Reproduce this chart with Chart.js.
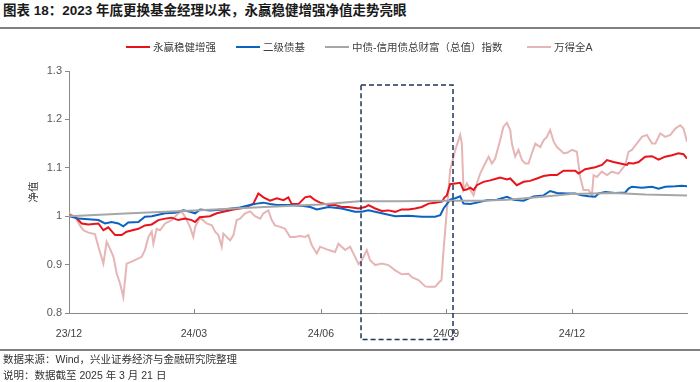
<!DOCTYPE html>
<html>
<head>
<meta charset="utf-8">
<script src="https://cdn.jsdelivr.net/npm/chart.js@4.4.0/dist/chart.umd.min.js"></script>
<style>
  body { margin: 0; width: 700px; height: 382px; overflow: hidden; background: #fff; position: relative;
         font-family: "Liberation Sans", "Noto Sans CJK SC", sans-serif; }
  #title { position: absolute; left: 3px; top: 2px; font-size: 13.5px; line-height: 18px; font-weight: bold; color: #1a1a1a; white-space: nowrap; }
  .rule { position: absolute; left: 0; width: 700px; background: #808080; }
  .leg { position: absolute; top: 40px; height: 14px; font-size: 10.5px; line-height: 14px; color: #404040; white-space: nowrap; }
  .leg i { display: inline-block; width: 24px; height: 2.5px; vertical-align: middle; margin-right: 3px; position: relative; top: -1px; }
  .foot { position: absolute; left: 3px; font-size: 10.5px; line-height: 14px; color: #333; white-space: nowrap; }
  #chart { position: absolute; left: 0; top: 0; }
</style>
</head>
<body>
<div id="title">图表 18：2023 年底更换基金经理以来，永赢稳健增强净值走势亮眼</div>
<div class="rule" style="top:27px;height:2px"></div>
<canvas id="chart" width="700" height="382"></canvas>
<div id="legend"></div>
<div class="rule" style="top:349px;height:1.5px"></div>
<div class="foot" style="top:352px">数据来源：Wind，兴业证券经济与金融研究院整理</div>
<div class="foot" style="top:368px">说明：数据截至 2025 年 3 月 21 日</div>
<script>
// x values are trading-day counts since the manager change (23/12)
const tickDays = [0, 60.7, 122.4, 183.2, 244.4];
const tickLabels = ['23/12', '24/03', '24/06', '24/09', '24/12'];

const seriesNames = ['永赢稳健增强', '二级债基', '中债-信用债总财富（总值）指数', '万得全A'];
const seriesColors = ['#e8141c', '#0b63c1', '#a6a6a6', '#e6b5b5'];

const redDays = [0, 2.9, 6.2, 9.4, 14.3, 16.7, 19.1, 22.4, 25.6, 28.0, 33.7, 36.9, 40.2, 43.4, 46.7, 49.9, 53.1, 56.4, 59.6, 61.3, 63.5, 66, 68.5, 71.8, 75.0, 79.9, 83.1, 86.4, 89.6, 92.0, 94.5, 97.7, 101.0, 104.2, 106.6, 108.2, 111.5, 114.7, 117.2, 119.6, 122.0, 126.1, 129.3, 132.5, 135.8, 140.7, 143.9, 145.5, 148.8, 152.0, 155.2, 158.5, 161.7, 165.0, 168.2, 171.4, 174.7, 177.9, 181.2, 182.5, 183.6, 185.2, 190.1, 191.7, 193.3, 195.0, 196.6, 198.2, 201.4, 204.7, 207.9, 209.5, 212.8, 214.4, 217.6, 220.9, 224.1, 227.4, 230.6, 233.8, 237.1, 240.3, 243.6, 246.0, 247.6, 250.8, 253.3, 255.7, 259.0, 261.4, 264.6, 267.9, 271.1, 271.9, 274.3, 276.8, 280.0, 283.3, 286.5, 289.7, 293.0, 296.2, 298.6, 300.3];
const redVals = [1.002, 0.999, 0.985, 0.983, 0.985, 0.971, 0.977, 0.961, 0.961, 0.968, 0.974, 0.981, 0.983, 0.992, 0.995, 0.997, 0.992, 0.995, 0.992, 0.988, 0.998, 0.999, 1.000, 1.006, 1.009, 1.014, 1.016, 1.019, 1.026, 1.047, 1.039, 1.032, 1.037, 1.033, 1.039, 1.025, 1.025, 1.039, 1.041, 1.033, 1.028, 1.023, 1.023, 1.019, 1.019, 1.016, 1.019, 1.023, 1.016, 1.011, 1.012, 1.009, 1.014, 1.014, 1.016, 1.019, 1.026, 1.028, 1.030, 1.039, 1.043, 1.066, 1.069, 1.054, 1.055, 1.059, 1.054, 1.064, 1.071, 1.074, 1.078, 1.080, 1.076, 1.078, 1.064, 1.071, 1.073, 1.078, 1.083, 1.085, 1.085, 1.094, 1.094, 1.094, 1.088, 1.097, 1.099, 1.101, 1.106, 1.116, 1.112, 1.109, 1.106, 1.110, 1.109, 1.112, 1.123, 1.124, 1.117, 1.123, 1.126, 1.130, 1.128, 1.119];

const blueDays = [0, 4.5, 7.8, 14.3, 17.5, 20.7, 24.0, 26.4, 28.8, 33.7, 36.9, 40.2, 43.4, 46.7, 51.5, 55.6, 58.8, 61.3, 63.7, 68.5, 75.0, 83.1, 88.0, 91.2, 94.5, 97.7, 101.0, 107.4, 113.9, 117.2, 120.4, 126.1, 132.5, 139.0, 142.3, 145.5, 152.0, 158.5, 165.0, 171.4, 177.9, 180.4, 182.0, 183.6, 185.2, 187.7, 190.1, 191.7, 195.0, 198.2, 203.1, 207.9, 212.8, 216.0, 220.9, 225.7, 230.6, 233.8, 237.1, 242.0, 246.0, 249.2, 252.5, 255.7, 257.3, 260.6, 265.4, 270.3, 271.9, 273.5, 278.4, 283.3, 286.5, 289.7, 294.6, 297.8, 300.3];
const blueVals = [1.000, 0.995, 0.994, 0.992, 0.985, 0.988, 0.985, 0.979, 0.987, 0.988, 0.999, 1.000, 1.003, 1.006, 1.007, 1.012, 1.009, 1.006, 1.014, 1.012, 1.014, 1.018, 1.023, 1.026, 1.028, 1.025, 1.023, 1.023, 1.021, 1.019, 1.014, 1.019, 1.016, 1.009, 1.009, 1.012, 1.006, 1.000, 1.001, 0.999, 0.999, 1.002, 1.016, 1.025, 1.034, 1.037, 1.041, 1.026, 1.025, 1.028, 1.033, 1.034, 1.040, 1.034, 1.032, 1.041, 1.043, 1.052, 1.048, 1.047, 1.047, 1.043, 1.041, 1.040, 1.047, 1.050, 1.048, 1.049, 1.057, 1.061, 1.059, 1.061, 1.057, 1.061, 1.062, 1.063, 1.062];

const grayDays = [0, 30, 61, 90, 122, 141, 160, 183, 200, 213, 230, 244, 265, 280, 300.3];
const grayVals = [1.000, 1.006, 1.012, 1.018, 1.024, 1.031, 1.031, 1.032, 1.032, 1.034, 1.040, 1.046, 1.048, 1.045, 1.043];

const pinkDays = [0, 2.9, 5.3, 7.0, 9.4, 12.6, 14.3, 16.7, 18.3, 19.9, 21.6, 23.2, 24.8, 26.4, 28.0, 30.5, 35.3, 36.9, 38.6, 40.2, 41.0, 42.6, 44.2, 46.7, 49.9, 53.1, 54.8, 56.4, 58.8, 60.4, 61.3, 63.7, 66.9, 69.4, 71.0, 72.6, 74.2, 75.0, 78.3, 79.9, 81.5, 83.1, 85.6, 88.0, 90.4, 92.9, 94.5, 96.9, 98.5, 100.1, 102.6, 105.0, 107.4, 109.9, 112.3, 114.7, 116.3, 118.0, 120.4, 122.0, 126.1, 129.3, 130.9, 134.2, 136.6, 139.0, 140.7, 142.3, 144.7, 146.3, 148.8, 152.0, 155.2, 158.5, 161.7, 165.0, 166.6, 169.8, 173.1, 174.7, 177.9, 179.5, 181.0, 182.0, 183.6, 185.2, 187.7, 190.1, 190.9, 191.7, 193.3, 195.0, 196.6, 198.2, 199.8, 202.2, 203.9, 205.5, 207.1, 209.5, 211.1, 212.8, 214.4, 215.2, 216.8, 218.4, 220.1, 221.7, 223.3, 224.9, 226.6, 229.0, 230.6, 232.2, 233.8, 235.5, 237.1, 238.7, 240.3, 242.0, 244.4, 246.8, 248.4, 250.0, 252.5, 254.1, 254.9, 256.5, 258.9, 261.4, 263.8, 267.0, 270.3, 271.9, 273.5, 275.9, 278.4, 280.8, 283.3, 284.9, 287.3, 289.7, 292.2, 294.6, 297.0, 298.6, 300.3];
const pinkVals = [1.006, 0.999, 0.981, 0.971, 0.966, 0.963, 0.937, 0.902, 0.947, 0.933, 0.916, 0.881, 0.861, 0.833, 0.902, 0.906, 0.916, 0.930, 0.957, 0.968, 0.943, 0.974, 0.971, 0.985, 0.992, 1.006, 1.009, 0.999, 0.978, 0.957, 0.978, 0.997, 0.985, 0.981, 0.968, 0.961, 0.937, 0.964, 0.950, 0.961, 0.992, 0.995, 1.006, 1.010, 1.000, 0.995, 1.006, 1.012, 0.992, 0.981, 0.978, 0.974, 0.957, 0.957, 0.959, 0.957, 0.961, 0.940, 0.923, 0.937, 0.930, 0.926, 0.943, 0.930, 0.937, 0.916, 0.901, 0.909, 0.930, 0.909, 0.899, 0.902, 0.899, 0.888, 0.880, 0.881, 0.874, 0.868, 0.855, 0.854, 0.854, 0.862, 0.868, 0.930, 1.012, 1.095, 1.137, 1.168, 1.150, 1.054, 1.068, 1.054, 1.043, 1.068, 1.088, 1.109, 1.123, 1.109, 1.119, 1.157, 1.185, 1.193, 1.178, 1.150, 1.123, 1.137, 1.116, 1.109, 1.109, 1.130, 1.150, 1.143, 1.157, 1.164, 1.178, 1.154, 1.143, 1.137, 1.130, 1.131, 1.137, 1.133, 1.081, 1.054, 1.054, 1.043, 1.085, 1.081, 1.092, 1.085, 1.092, 1.088, 1.106, 1.133, 1.137, 1.150, 1.164, 1.168, 1.150, 1.150, 1.171, 1.164, 1.168, 1.181, 1.188, 1.181, 1.154];

// highlighted window (dashed box), in axis units
const boxDays = [141.9, 186.6];
const boxVals = [0.745, 1.271];

const toPoints = (days, vals) => days.map((d, i) => ({ x: d, y: vals[i] }));

// html legend
const legendLeft = [126, 236, 325, 527];
document.getElementById('legend').innerHTML = seriesNames.map((name, i) =>
    `<div class="leg" style="left:${legendLeft[i]}px"><i style="background:${seriesColors[i]}"></i>${name}</div>`
).join('');

const boxPlugin = {
    id: 'boxPlugin',
    afterDatasetsDraw(chart) {
        const { ctx, scales: { x, y } } = chart;
        const x0 = x.getPixelForValue(boxDays[0]), x1 = x.getPixelForValue(boxDays[1]);
        const y0 = y.getPixelForValue(boxVals[1]), y1 = y.getPixelForValue(boxVals[0]);
        ctx.save();
        ctx.strokeStyle = '#1f3558';
        ctx.lineWidth = 1.5;
        ctx.setLineDash([5, 3]);
        ctx.strokeRect(x0, y0, x1 - x0, y1 - y0);
        ctx.restore();
    },
    afterDraw(chart) {
        // short x ticks pointing up into the plot
        const { ctx, scales: { x } } = chart;
        ctx.save();
        ctx.strokeStyle = '#898989';
        ctx.lineWidth = 1;
        tickDays.forEach(d => {
            const px = Math.round(x.getPixelForValue(d)) + 0.5;
            ctx.beginPath();
            ctx.moveTo(px, x.top);
            ctx.lineTo(px, x.top - 4);
            ctx.stroke();
        });
        ctx.restore();
    }
};

const mkSet = (i, days, vals, order) => ({
    label: seriesNames[i],
    data: toPoints(days, vals),
    borderColor: seriesColors[i],
    borderWidth: 2,
    pointRadius: 0,
    tension: 0,
    fill: false,
    order: order
});

new Chart(document.getElementById('chart'), {
    type: 'line',
    data: {
        datasets: [
            mkSet(0, redDays, redVals, 3),
            mkSet(1, blueDays, blueVals, 2),
            mkSet(2, grayDays, grayVals, 1),
            mkSet(3, pinkDays, pinkVals, 4)
        ]
    },
    options: {
        responsive: false,
        animation: false,
        devicePixelRatio: 1,
        layout: { padding: { left: 0, right: 13, top: 71, bottom: 0 } },
        plugins: { legend: { display: false }, tooltip: { enabled: false } },
        scales: {
            x: {
                type: 'linear',
                min: 0,
                max: 300.3,
                afterFit: s => { s.height = 69; },
                afterBuildTicks: s => { s.ticks = tickDays.map(v => ({ value: v })); },
                grid: { display: false },
                border: { display: true, color: '#898989', width: 1 },
                ticks: {
                    autoSkip: false, maxRotation: 0, padding: 7,
                    color: '#404040',
                    font: { family: '"Liberation Sans", "Noto Sans CJK SC"', size: 10.5 },
                    callback: (v, i) => tickLabels[i]
                }
            },
            y: {
                min: 0.8,
                max: 1.3,
                afterFit: s => { s.width = 69; },
                grid: { drawOnChartArea: false, drawTicks: true, tickLength: 4, color: '#898989' },
                border: { display: true, color: '#898989', width: 1 },
                ticks: {
                    stepSize: 0.1, padding: 3,
                    color: '#595959',
                    font: { family: '"Liberation Sans", "Noto Sans CJK SC"', size: 11 },
                    callback: v => String(Number(v.toFixed(1)))
                },
                title: {
                    display: true,
                    text: '净值',
                    color: '#404040',
                    padding: { top: 27, bottom: 0 },
                    font: { family: '"Noto Sans CJK SC", "Liberation Sans"', size: 10.5 }
                }
            }
        }
    },
    plugins: [boxPlugin]
});
</script>
</body>
</html>
